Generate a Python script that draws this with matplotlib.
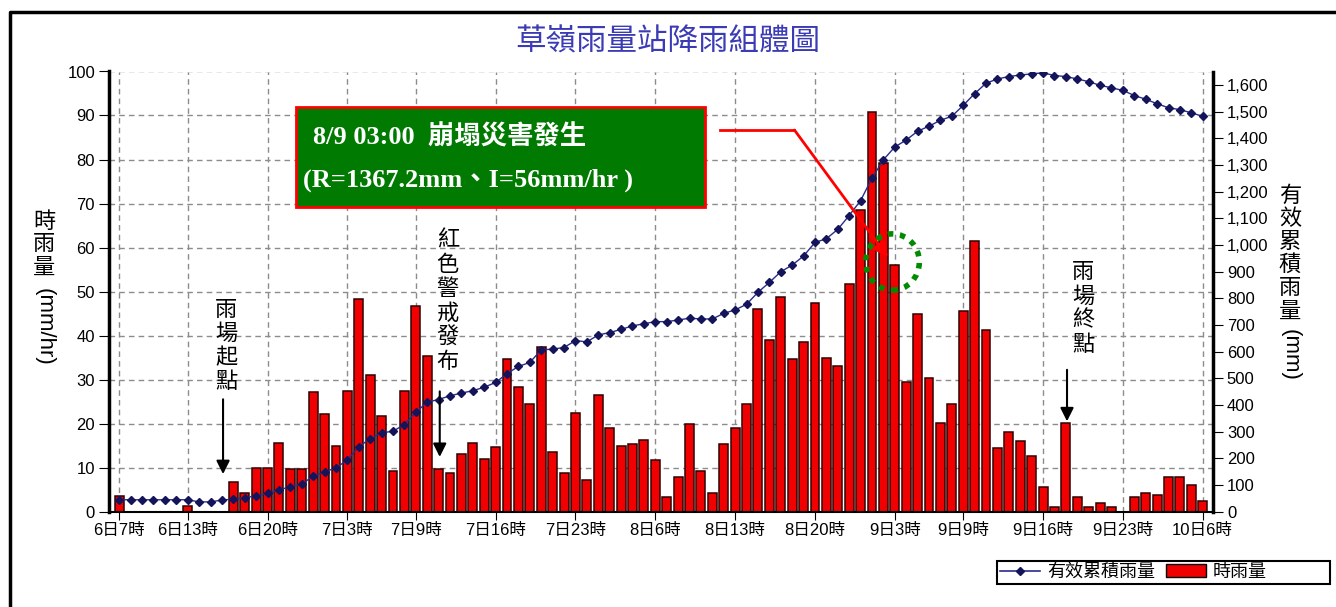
import matplotlib.pyplot as plt
from matplotlib.patches import Rectangle, Ellipse
from matplotlib.lines import Line2D
from matplotlib.ticker import FuncFormatter

plt.rcParams['font.family'] = ['Liberation Sans', 'Noto Sans CJK TC']

# hourly rainfall (mm/hr), one value per hour from 6日7時 to 10日6時
rain = [3.5, 0, 0, 0, 0, 0, 1.2, 0, 0, 0,
        6.8, 4.3, 10.0, 10.0, 15.5, 9.6, 9.6, 27.2, 22.1, 15.0,
        27.5, 48.3, 31.1, 21.7, 9.2, 27.5, 46.8, 35.4, 9.6, 8.7,
        13.1, 15.5, 11.9, 14.6, 34.7, 28.4, 24.5, 37.4, 13.5, 8.7,
        22.4, 7.2, 26.4, 18.9, 14.9, 15.3, 16.2, 11.8, 3.2, 7.8,
        19.8, 9.2, 4.3, 15.4, 18.9, 24.5, 46.0, 39.0, 48.7, 34.6,
        38.6, 47.5, 35.0, 33.1, 51.8, 68.5, 90.8, 79.2, 56.0, 29.4,
        44.8, 30.3, 20.2, 24.5, 45.6, 61.5, 41.3, 14.5, 18.1, 16.0,
        12.6, 5.6, 1.1, 20.2, 3.2, 1.1, 2.0, 1.1, 0, 3.2,
        4.1, 3.7, 7.8, 7.8, 6.0, 2.4]

# effective cumulative rainfall (mm)
cum = [44, 44, 44, 44, 44, 44, 44, 36, 36, 43,
       46, 52, 58, 68, 81, 93, 102, 133, 148, 164,
       193, 243, 273, 295, 301, 326, 372, 410, 420, 434,
       444, 453, 466, 484, 517, 544, 559, 606, 609, 615,
       641, 636, 662, 671, 683, 696, 704, 712, 712, 718,
       725, 722, 722, 743, 756, 777, 822, 859, 899, 924,
       958, 1009, 1023, 1058, 1110, 1166, 1250, 1319, 1367, 1393,
       1426, 1445, 1467, 1482, 1523, 1567, 1606, 1622, 1631, 1637,
       1641, 1645, 1635, 1631, 1622, 1612, 1598, 1589, 1579, 1560,
       1546, 1529, 1514, 1507, 1495, 1482]

tick_pos = [0, 6, 13, 20, 26, 33, 40, 47, 54, 61, 68, 74, 81, 88, 95]
tick_labels = ['6日7時', '6日13時', '6日20時', '7日3時', '7日9時', '7日16時',
               '7日23時', '8日6時', '8日13時', '8日20時', '9日3時', '9日9時',
               '9日16時', '9日23時', '10日6時']

W, H = 1336, 607
fig = plt.figure(figsize=(W / 100, H / 100), dpi=100)


def fx(px):
    return px / W


def fy(py):
    return 1 - py / H


ax = fig.add_axes([fx(109), fy(511.5), (1213 - 109) / W, 440 / H])
ax2 = ax.twinx()

hours = list(range(len(rain)))
ax.bar(hours, rain, width=0.78, color='#f00000', edgecolor='#300000', linewidth=1.1, zorder=2)
ax.set_xlim(-0.9, 95.9)
ax.set_ylim(0, 100)
ax.set_yticks(range(0, 101, 10))
ax.set_xticks(tick_pos)
ax.set_xticklabels(tick_labels, fontsize=12)
ax.grid(True, color='#8c8c8c', linestyle=(0, (4, 3)), linewidth=1)
ax.set_axisbelow(True)
ax.tick_params(axis='y', direction='out', length=7, labelsize=12, pad=3)
ax.tick_params(axis='x', direction='out', length=6, pad=2)

ax2.plot(hours, cum, color='#2b2b8c', lw=1, marker='D', ms=4,
         mfc='#14145a', mec='#14145a', zorder=3)
ax2.yaxis.set_major_formatter(FuncFormatter(lambda v, p: f'{int(v):,}'))
ax2.tick_params(axis='y', direction='out', length=7, labelsize=12, pad=3)

for s in ['top', 'right']:
    ax.spines[s].set_visible(False)
for s in ['top', 'left', 'bottom']:
    ax2.spines[s].set_visible(False)
ax.spines['left'].set_linewidth(2.5)
ax2.spines['right'].set_linewidth(2.5)
ax.spines['bottom'].set_linewidth(1.5)

# annotation box
tr = ax.transData
ax2.add_patch(Rectangle((15.5, 69.2), 35.9, 22.7, transform=tr,
                        facecolor='#007a00', edgecolor='red', lw=2, zorder=5))
box_font = ['Liberation Serif', 'Noto Sans CJK TC']
ax2.text(17.0, 85.1, '8/9 03:00  崩塌災害發生', transform=tr, color='white',
         fontsize=19, fontweight='bold', family=box_font, va='center', zorder=6)
ax2.text(16.1, 75.3, '(R=1367.2mm、I=56mm/hr )', transform=tr, color='white',
         fontsize=19, fontweight='bold', family=box_font, va='center', zorder=6)

# red pointer
ax2.plot([52.7, 59.2], [86.7, 86.7], transform=tr, color='red', lw=2, zorder=6)
ax2.annotate('', xy=(67.4, 57.8), xytext=(59.2, 86.7), xycoords=tr,
             arrowprops=dict(arrowstyle='-|>', color='red', lw=2,
                             mutation_scale=22, shrinkA=0, shrinkB=0), zorder=6)
ax2.add_patch(Ellipse((67.8, 56.7), 4.7, 12.8, transform=tr, fill=False,
                      edgecolor='#008c00', lw=4, linestyle=(0, (1, 1.2)), zorder=6))


def vtext(x, y0, chars, step=5.5):
    for k, c in enumerate(chars):
        ax2.text(x, y0 - k * step, c, transform=tr, fontsize=16, ha='center',
                 va='center', family='Noto Sans CJK TC', zorder=6)


def down_arrow(x, y1, y2):
    ax2.annotate('', xy=(x, y2), xytext=(x, y1), xycoords=tr,
                 arrowprops=dict(arrowstyle='-|>', color='black', lw=1.5,
                                 mutation_scale=20, shrinkA=0, shrinkB=0), zorder=6)


vtext(9.4, 46.0, '雨場起點')
down_arrow(9.1, 25.5, 8.5)
vtext(28.8, 61.6, '紅色警戒發布')
down_arrow(28.1, 27.3, 12.4)
vtext(84.5, 54.5, '雨場終點')
down_arrow(83.1, 32.2, 20.5)

ax2.set_ylim(0, 1650)
ax2.set_yticks(range(0, 1601, 100))

# title and axis labels
fig.text(fx(668), fy(42), '草嶺雨量站降雨組體圖', color='#3b3bb5', fontsize=22,
         ha='center', va='center', family='Noto Sans CJK TC')
for k, c in enumerate('時雨量'):
    fig.text(fx(44), fy(222 + 23 * k), c, fontsize=16, ha='center', va='center')
fig.text(fx(44), fy(327), '(mm/hr)', fontsize=16, rotation=-90, ha='center', va='center')
for k, c in enumerate('有效累積雨量'):
    fig.text(fx(1290), fy(196 + 23.2 * k), c, fontsize=16, ha='center', va='center')
fig.text(fx(1290), fy(355), '(mm)', fontsize=16, rotation=-90, ha='center', va='center')

# legend
handles = [Line2D([], [], color='#2b2b8c', marker='D', ms=4, mfc='#14145a', mec='#14145a', lw=1.2),
           Rectangle((0, 0), 1, 1, facecolor='#f00000', edgecolor='black')]
fig.legend(handles, ['有效累積雨量', '時雨量'], loc='center left',
           bbox_to_anchor=(fx(1000), fy(572.5)), ncol=2, frameon=False, fontsize=13,
           handlelength=2.2, handleheight=0.7, handletextpad=0.4, columnspacing=0.6,
           borderpad=0, borderaxespad=0)
fig.add_artist(Rectangle((fx(997), fy(584)), (1330 - 997) / W, 23 / H,
                         transform=fig.transFigure, fill=False, edgecolor='black', lw=1.5))

# outer frame
fig.add_artist(Line2D([fx(10), fx(10), 1], [0, fy(12), fy(12)],
                      transform=fig.transFigure, color='black', lw=2.5))

fig.savefig('out.png', dpi=100)
